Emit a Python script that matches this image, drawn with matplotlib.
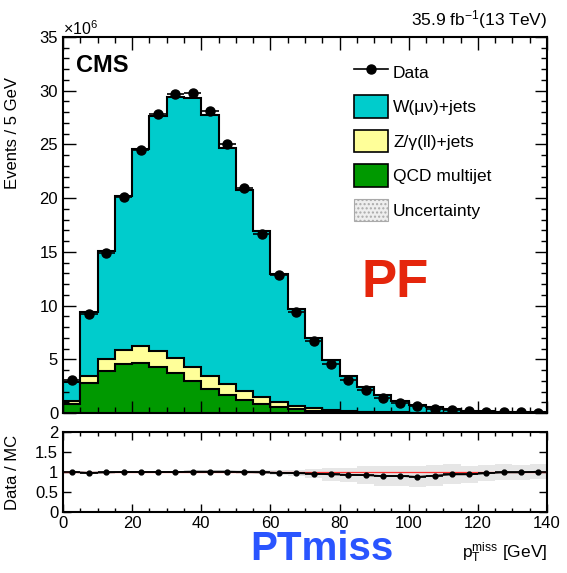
import numpy as np
import matplotlib
matplotlib.use("Agg")
from matplotlib import pyplot as plt
from matplotlib.lines import Line2D
from matplotlib.patches import Patch
from matplotlib.ticker import MultipleLocator

plt.rcParams['font.family'] = ['Liberation Sans', 'DejaVu Sans']
plt.rcParams['mathtext.fontset'] = 'custom'
plt.rcParams['mathtext.rm'] = 'Liberation Sans'
plt.rcParams['mathtext.it'] = 'Liberation Sans:italic'

# binning: 5 GeV bins from 0 to 140
edges = np.arange(0, 145, 5)
centers = 0.5 * (edges[:-1] + edges[1:])

# stacked MC, in units of 1e6 events
qcd = [0.82, 2.76, 3.9, 4.53, 4.7, 4.25, 3.7, 2.95, 2.23, 1.68, 1.2, 0.84, 0.53, 0.37,
       0.22, 0.13, 0.08, 0.05, 0.03, 0.02, 0.012, 0.008, 0.005, 0.003, 0.002, 0.001, 0.001, 0.001]
zjets = [0.26, 0.66, 1.1, 1.34, 1.5, 1.55, 1.4, 1.35, 1.17, 0.99, 0.88, 0.62, 0.52, 0.31,
         0.21, 0.15, 0.10, 0.07, 0.05, 0.03, 0.023, 0.017, 0.013, 0.009, 0.006, 0.005, 0.003, 0.002]
wjets = [1.82, 5.98, 10.1, 14.33, 18.4, 21.8, 24.3, 25.0, 24.3, 22.03, 18.72, 15.44, 11.85, 8.97,
         6.52, 4.62, 3.22, 2.28, 1.59, 1.1, 0.745, 0.495, 0.332, 0.218, 0.142, 0.094, 0.066, 0.047]
data = [3.07, 9.2, 14.9, 20.1, 24.5, 27.8, 29.7, 29.8, 28.1, 25.0, 20.9, 16.7, 12.8, 9.4,
        6.7, 4.6, 3.1, 2.1, 1.4, 0.95, 0.62, 0.40, 0.27, 0.17, 0.11, 0.075, 0.05, 0.035]

# ratio panel
ratio = [1.0, 0.98, 0.99, 1.0, 1.0, 1.0, 1.0, 1.01, 1.01, 1.01, 1.0, 0.99, 0.98, 0.97,
         0.96, 0.94, 0.93, 0.92, 0.9, 0.9, 0.88, 0.91, 0.94, 0.94, 0.97, 0.99, 0.99, 1.01]
ratio_unc = [0.03, 0.03, 0.03, 0.03, 0.03, 0.03, 0.03, 0.03, 0.03, 0.04, 0.04, 0.05, 0.06, 0.08,
             0.12, 0.16, 0.18, 0.22, 0.25, 0.26, 0.26, 0.26, 0.25, 0.22, 0.2, 0.2, 0.18, 0.18]

c_w = '#00CCCC'
c_z = '#FFFF99'
c_qcd = '#009900'

qcd = np.array(qcd)
lower = qcd + np.array(zjets)
total = lower + np.array(wjets)

fig = plt.figure(figsize=(5.67, 5.73), dpi=100)
W, H = 567, 573
ax = fig.add_axes([63 / W, 1 - 413 / H, 484 / W, 376 / H])
axr = fig.add_axes([63 / W, 1 - 512 / H, 484 / W, 80 / H])

for h, c in [(total, c_w), (lower, c_z), (qcd, c_qcd)]:
    ax.stairs(h, edges, baseline=0, fill=True, facecolor=c, edgecolor='black', linewidth=1.5)

ax.errorbar(centers, data, xerr=2.5, fmt='o', color='black', ms=6.5, elinewidth=1.2, capsize=0)

ax.set_xlim(0, 140)
ax.set_ylim(0, 35)
ax.set_xticklabels([])
ax.set_ylabel('Events / 5 GeV', fontsize=12, loc='top')

# ratio
axr.stairs(np.array(ratio) + np.array(ratio_unc), edges,
           baseline=np.array(ratio) - np.array(ratio_unc),
           fill=True, facecolor='#e6e6e6', edgecolor='none')
axr.axhline(1, color='#ff3030', lw=0.9)
axr.errorbar(centers, ratio, xerr=2.5, fmt='-o', color='black', ms=3.5, lw=1.2, capsize=0)
axr.set_xlim(0, 140)
axr.set_ylim(0, 2)
axr.set_yticks([0, 0.5, 1, 1.5, 2])
axr.set_yticklabels(['0', '0.5', '1', '1.5', '2'])
axr.set_ylabel('Data / MC', fontsize=12)

for a in (ax, axr):
    a.xaxis.set_major_locator(MultipleLocator(20))
    a.xaxis.set_minor_locator(MultipleLocator(5))
    a.tick_params(which='both', direction='in', top=True, right=True, labelsize=12, width=1.0)
    for s in a.spines.values():
        s.set_linewidth(1.5)
ax.yaxis.set_major_locator(MultipleLocator(5))
ax.yaxis.set_minor_locator(MultipleLocator(1))
ax.tick_params(which='major', length=9)
ax.tick_params(which='minor', length=4.5)
axr.tick_params(which='major', length=5.5)
axr.tick_params(which='minor', length=3)
axr.tick_params(axis='x', pad=3)

ax.yaxis.set_label_coords(-0.088, (413 - 77) / 376)
axr.yaxis.set_label_coords(-0.088, 0.5)

fig.text(63 / W, 1 - 35 / H, r'$\times10^{6}$', fontsize=11.5, ha='left', va='baseline')
fig.text(547 / W, 1 - 25 / H, r'35.9 fb$^{-1}$(13 TeV)', fontsize=12.5, ha='right', va='baseline')
ax.text(0.026, 0.955, 'CMS', transform=ax.transAxes, fontsize=17, fontweight='bold', ha='left', va='top')
fig.text(395 / W, 1 - 283 / H, 'PF', fontsize=38, color='#E5260C', fontweight='bold', ha='center', va='center')
fig.text(322 / W, 1 - 549 / H, 'PTmiss', fontsize=29, color='#2A55FF', fontweight='bold', ha='center', va='center')
fig.text(547 / W, 1 - 558 / H, r'p$_{\mathrm{T}}^{\mathrm{miss}}$ [GeV]', fontsize=12.5, ha='right', va='baseline')

handles = [
    Line2D([0], [0], color='black', marker='o', ms=6.5, lw=1.2),
    Patch(facecolor=c_w, edgecolor='black', lw=1.2),
    Patch(facecolor=c_z, edgecolor='black', lw=1.2),
    Patch(facecolor=c_qcd, edgecolor='black', lw=1.2),
    Patch(facecolor='#eeeeee', edgecolor='#aaaaaa', hatch='....', lw=0.8),
]
labels = ['Data', 'W(μν)+jets', 'Z/γ(ll)+jets', 'QCD multijet', 'Uncertainty']
fig.legend(handles, labels, loc='upper left', bbox_to_anchor=(354 / W, 1 - 61 / H),
           frameon=False, fontsize=12.5, handlelength=1.95, handleheight=1.6,
           labelspacing=0.7, handletextpad=0.3, borderpad=0, borderaxespad=0)

fig.savefig('out.png', dpi=100)
